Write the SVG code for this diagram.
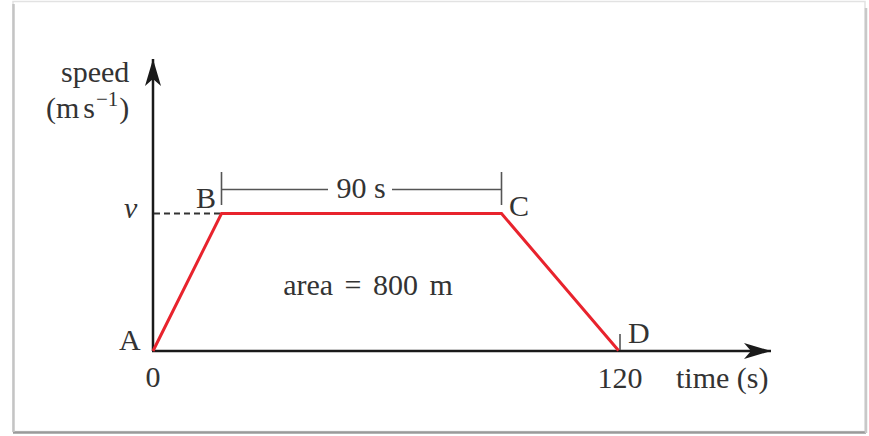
<svg xmlns="http://www.w3.org/2000/svg" width="869" height="436" viewBox="0 0 869 436">
<style>
  text { font-family: "Liberation Serif", "Times New Roman", serif; font-size: 30px; fill: #333; }
  .axis { stroke: #1a1a1a; stroke-width: 2.5; fill: none; }
  .curve { stroke: #e8232d; stroke-width: 3; fill: none; stroke-linejoin: miter; }
  .dim { stroke: #555; stroke-width: 1.6; fill: none; }
  .dash { stroke: #333; stroke-width: 1.8; stroke-dasharray: 6 4; fill: none; }
</style>
<defs>
  <marker id="arr" markerUnits="userSpaceOnUse" markerWidth="30" markerHeight="20" viewBox="-28 -10 30 20" refX="0" refY="0" orient="auto">
    <path d="M0,0 L-27,-8 L-20,0 L-27,8 Z" fill="#1a1a1a"/>
  </marker>
</defs>
<rect x="0" y="0" width="869" height="436" fill="#fff"/>
<g id="frame">
  <rect x="13" y="1.5" width="852" height="430" fill="#fff" stroke="#e2e2e2" stroke-width="1.5"/>
  <line x1="13" y1="432.5" x2="866" y2="432.5" stroke="#9a9a9a" stroke-width="2.5"/>
  <line x1="866" y1="8" x2="866" y2="433" stroke="#c8c8c8" stroke-width="2.5"/>
  <line x1="13.5" y1="4" x2="13.5" y2="432" stroke="#c4c4c4" stroke-width="2.5"/>
</g>
<g id="connectors">
  <line class="axis" x1="153" y1="351" x2="153" y2="59" marker-end="url(#arr)"/>
  <line class="axis" x1="152" y1="351" x2="771" y2="351" marker-end="url(#arr)"/>
  <line class="dash" x1="154" y1="213.5" x2="221" y2="213.5"/>
  <line class="dim" x1="221.5" y1="172" x2="221.5" y2="205"/>
  <line class="dim" x1="501.5" y1="172" x2="501.5" y2="205"/>
  <line class="dim" x1="221.5" y1="189.5" x2="328" y2="189.5"/>
  <line class="dim" x1="392" y1="189.5" x2="501.5" y2="189.5"/>
  <line class="dim" x1="620" y1="334" x2="620" y2="350"/>
  <polyline class="curve" points="153,351 221.5,213.5 501.5,213.5 618.5,350.5"/>
</g>
<g id="labels">
  <text x="61" y="82">speed</text>
  <text x="46" y="118">(m<tspan dx="4">s</tspan><tspan font-size="21" dy="-12" dx="1">−1</tspan><tspan dy="12" dx="1">)</tspan></text>
  <text x="124" y="218" font-style="italic">v</text>
  <text x="196" y="208">B</text>
  <text x="509" y="216">C</text>
  <text x="628" y="343">D</text>
  <text x="119" y="350">A</text>
  <text x="153" y="387" text-anchor="middle">0</text>
  <text x="620" y="388" text-anchor="middle">120</text>
  <text x="676" y="388">time (s)</text>
  <text x="361" y="198" text-anchor="middle">90 s</text>
  <text x="368" y="295" text-anchor="middle" word-spacing="4">area = 800 m</text>
</g>
</svg>
